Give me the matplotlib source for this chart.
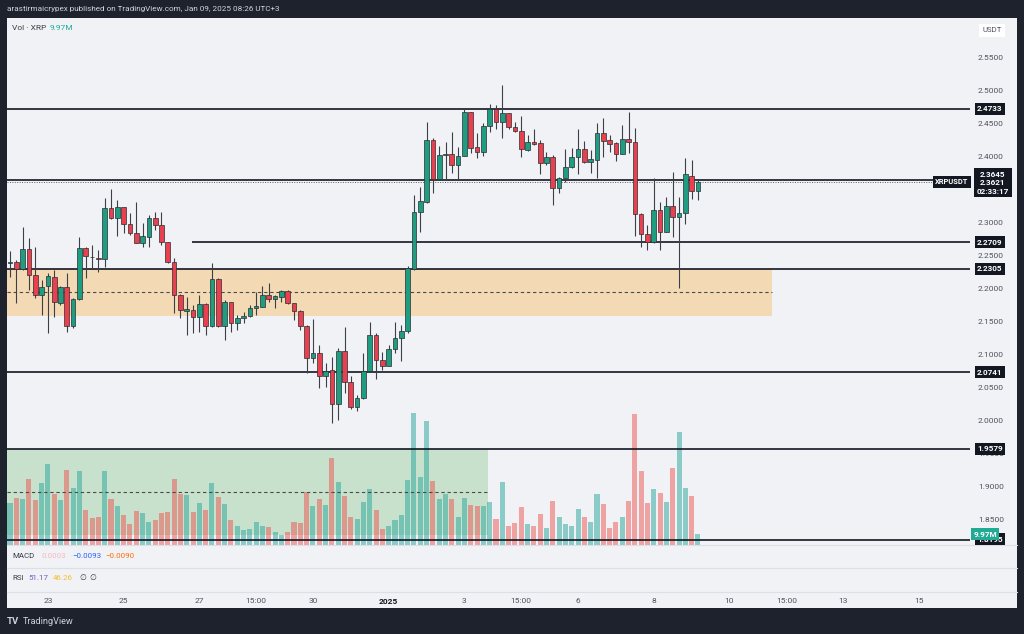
import matplotlib
matplotlib.use('Agg')
import matplotlib.pyplot as plt
from matplotlib.patches import Rectangle
from matplotlib.lines import Line2D
from matplotlib.transforms import blended_transform_factory

plt.rcParams['font.family'] = ['Roboto', 'DejaVu Sans']

W, H = 1024, 634

# --- XRPUSDT 4h candles, Dec 22 2024 -> Jan 09 2025 ---
opens = [2.2389, 2.2405, 2.2299, 2.2602, 2.2213, 2.1910, 2.2046, 2.2188, 2.1794, 2.2026,
         2.1445, 2.1844, 2.2617, 2.2491, 2.2475, 2.2455, 2.3223, 2.3071, 2.3238, 2.2985,
         2.2844, 2.2702, 2.2794, 2.3071, 2.2970, 2.2708, 2.2415, 2.1910, 2.1672, 2.1683,
         2.1571, 2.1768, 2.1445, 2.2157, 2.1445, 2.1799, 2.1480, 2.1556, 2.1592, 2.1708,
         2.1733, 2.1910, 2.1844, 2.1884, 2.1975, 2.1784, 2.1667, 2.1444, 2.0949, 2.1025,
         2.0687, 2.0773, 2.0257, 2.1060, 2.0596, 2.0217, 2.0343, 2.0763, 2.1303, 2.0924,
         2.0838, 2.1091, 2.1262, 2.1363, 2.2299, 2.3172, 2.3324, 2.4258, 2.3667, 2.4031,
         2.4046, 2.3879, 2.4021, 2.4677, 2.4147, 2.4081, 2.4470, 2.4728, 2.4536, 2.4662,
         2.4460, 2.4399, 2.4107, 2.4233, 2.4207, 2.3905, 2.4006, 2.3526, 2.3677, 2.3844,
         2.3995, 2.4117, 2.3920, 2.3955, 2.4369, 2.4258, 2.4207, 2.4046, 2.4268, 2.4223,
         2.3132, 2.2829, 2.2718, 2.3198, 2.2869, 2.3263, 2.3097, 2.3157, 2.3718, 2.3490]
highs = [2.2581, 2.2440, 2.2945, 2.2768, 2.2642, 2.2137, 2.2238, 2.2288, 2.2046, 2.2248,
         2.1859, 2.2794, 2.2642, 2.2667, 2.2592, 2.3374, 2.3511, 2.3349, 2.3248, 2.3147,
         2.3324, 2.2995, 2.3122, 2.3172, 2.3172, 2.2718, 2.2465, 2.1920, 2.1884, 2.1758,
         2.1910, 2.1784, 2.2389, 2.2172, 2.1834, 2.1809, 2.1607, 2.1657, 2.1758, 2.1960,
         2.2046, 2.2087, 2.1910, 2.1985, 2.1985, 2.1794, 2.1683, 2.1454, 2.1540, 2.1151,
         2.0873, 2.0975, 2.1101, 2.1419, 2.0682, 2.0394, 2.1025, 2.1505, 2.1328, 2.1050,
         2.1151, 2.1505, 2.1454, 2.2349, 2.3425, 2.3551, 2.4526, 2.4283, 2.4167, 2.4233,
         2.4374, 2.4157, 2.4728, 2.4687, 2.4369, 2.4511, 2.4798, 2.4788, 2.5091, 2.4672,
         2.4536, 2.4627, 2.4334, 2.4420, 2.4258, 2.4081, 2.4031, 2.3692, 2.4117, 2.4132,
         2.4420, 2.4248, 2.4107, 2.4511, 2.4586, 2.4334, 2.4233, 2.4485, 2.4677, 2.4435,
         2.3147, 2.2970, 2.3677, 2.3324, 2.3400, 2.3768, 2.3389, 2.3980, 2.3955, 2.3667]
lows = [2.2187, 2.1784, 2.2288, 2.1985, 2.1859, 2.1607, 2.1329, 2.1582, 2.1758, 2.1354,
        2.1405, 2.1834, 2.2162, 2.2314, 2.2263, 2.2329, 2.3061, 2.2804, 2.2844, 2.2819,
        2.2692, 2.2642, 2.2642, 2.2894, 2.2667, 2.2389, 2.1632, 2.1556, 2.1304, 2.1329,
        2.1354, 2.1304, 2.1430, 2.1430, 2.1228, 2.1354, 2.1379, 2.1480, 2.1582, 2.1607,
        2.1723, 2.1809, 2.1708, 2.1809, 2.1773, 2.1531, 2.1379, 2.0732, 2.0873, 2.0495,
        2.0520, 1.9975, 2.0015, 2.0429, 2.0177, 2.0156, 2.0330, 2.0750, 2.0636, 2.0773,
        2.0833, 2.1025, 2.0914, 2.1328, 2.2289, 2.2869, 2.3309, 2.3450, 2.3657, 2.3667,
        2.3763, 2.3667, 2.4016, 2.4056, 2.3980, 2.4016, 2.4384, 2.4425, 2.4293, 2.4425,
        2.4384, 2.4006, 2.4096, 2.4182, 2.3738, 2.3879, 2.3273, 2.3450, 2.3627, 2.3829,
        2.3738, 2.3905, 2.3753, 2.3677, 2.3995, 2.4081, 2.3940, 2.4040, 2.4066, 2.2804,
        2.2642, 2.2592, 2.2703, 2.2592, 2.2864, 2.2794, 2.2016, 2.2985, 2.3359, 2.3349]
closes = [2.2415, 2.2299, 2.2602, 2.2213, 2.1910, 2.2036, 2.2198, 2.1809, 2.2026, 2.1445,
          2.1844, 2.2617, 2.2501, 2.2480, 2.2450, 2.3223, 2.3071, 2.3238, 2.2985, 2.2844,
          2.2702, 2.2804, 2.3071, 2.2970, 2.2708, 2.2415, 2.1910, 2.1683, 2.1693, 2.1571,
          2.1768, 2.1445, 2.2157, 2.1445, 2.1799, 2.1480, 2.1556, 2.1592, 2.1708, 2.1743,
          2.1910, 2.1844, 2.1895, 2.1975, 2.1784, 2.1667, 2.1445, 2.0949, 2.1025, 2.0687,
          2.0763, 2.0257, 2.1060, 2.0596, 2.0217, 2.0343, 2.0763, 2.1303, 2.0924, 2.0838,
          2.1091, 2.1262, 2.1363, 2.2314, 2.3172, 2.3334, 2.4258, 2.3667, 2.4031, 2.4046,
          2.3879, 2.4021, 2.4677, 2.4142, 2.4081, 2.4470, 2.4728, 2.4536, 2.4662, 2.4450,
          2.4399, 2.4117, 2.4233, 2.4192, 2.3905, 2.4006, 2.3526, 2.3677, 2.3844, 2.3995,
          2.4117, 2.3920, 2.3970, 2.4369, 2.4248, 2.4197, 2.4046, 2.4268, 2.4223, 2.3132,
          2.2829, 2.2718, 2.3198, 2.2869, 2.3263, 2.3097, 2.3157, 2.3738, 2.3490, 2.3621]
# volume in millions XRP
volumes = [38.9, 43.5, 43.2, 61.9, 42.0, 58.2, 75.8, 47.5, 42.0, 69.9,
           53.5, 68.7, 32.6, 25.5, 25.8, 68.7, 43.2, 36.4, 27.7, 19.9,
           31.4, 29.5, 21.8, 23.3, 29.5, 30.8, 61.9, 47.9, 46.6, 30.8,
           38.9, 32.6, 58.2, 44.8, 38.2, 23.3, 17.4, 13.7, 14.9, 21.1,
           18.0, 16.8, 11.8, 9.6, 11.8, 21.8, 20.2, 49.4, 36.4, 43.2,
           37.6, 81.2, 58.7, 45.4, 26.4, 24.5, 40.4, 51.9, 33.0, 14.6,
           17.4, 23.6, 28.0, 60.6, 122.8, 63.1, 115.3, 60.0, 42.9, 47.5,
           42.9, 26.4, 44.2, 37.0, 36.7, 36.4, 39.8, 24.5, 59.1, 17.7,
           20.5, 35.8, 19.3, 17.7, 28.6, 15.5, 41.1, 25.8, 19.6, 17.7,
           33.9, 25.8, 21.8, 47.3, 38.2, 15.5, 21.1, 26.1, 41.1, 121.6,
           69.0, 39.2, 52.2, 48.5, 40.4, 72.1, 105.1, 52.8, 45.7, 9.97]

levels = [2.4733, 2.3645, 2.2709, 2.2305, 2.0741, 1.9579, 1.8195]
level_start = [None, None, 28.8, None, None, None, None]   # bar index where a line begins
last_price = 2.3621
zone_low, zone_high, zone_end = 2.1590, 2.2305, 120.8
vbox_low, vbox_high, vbox_end = 1.8269, 1.9579, 75.8

# 2.3500 is hidden behind the last-price tag on the original
price_ticks = [1.85, 1.90, 1.95, 2.00, 2.05, 2.10, 2.15, 2.20, 2.25, 2.30, 2.40, 2.45, 2.50, 2.55]
time_pos = [6, 18, 30, 39, 48, 60, 72, 81, 90, 102, 114, 123, 132, 144]
time_labels = ['23', '25', '27', '15:00', '30', '2025', '3', '15:00', '6', '8', '10', '15:00', '13', '15']

BG = '#f0f2f5'
FRAME = '#1e222d'
UP, DOWN = '#1f9d80', '#e8404f'
INK = '#131722'


def fx(px):
    return px / W


def fy(py):
    return 1 - py / H


fig = plt.figure(figsize=(W / 100, H / 100), dpi=100, facecolor=FRAME)
fig.add_artist(Rectangle((fx(7), fy(608)), fx(1017) - fx(7), fy(18) - fy(608),
                         transform=fig.transFigure, facecolor=BG, edgecolor='none', zorder=-10))

rect = [fx(7), fy(545), fx(970) - fx(7), fy(18) - fy(545)]
x0, x1 = -0.475, 152.1
n = len(closes)
xs = list(range(n))

ax = fig.add_axes(rect)
ax.set_facecolor('none')
ax.set_xlim(x0, x1)
ax.set_ylim(1.8121, 2.6106)
ax.set_zorder(2)
for s in ax.spines.values():
    s.set_visible(False)

# volume pane sits behind the price pane
vax = fig.add_axes(rect)
vax.set_facecolor('none')
vax.axis('off')
vax.set_zorder(1)
vax.set_xlim(x0, x1)
vax.set_ylim(0, 491)

# green volume box (behind the volume bars)
vax.add_patch(Rectangle((x0, vbox_low), vbox_end - x0, vbox_high - vbox_low,
                        transform=ax.transData, facecolor='#4caf50', alpha=0.24,
                        linewidth=0, zorder=0.5))
vcols = [(0.149, 0.651, 0.604, 0.5) if c >= o else (0.937, 0.325, 0.314, 0.5)
         for o, c in zip(opens, closes)]
vax.bar(xs, volumes, width=0.8, color=vcols, linewidth=0, zorder=1)
ax.hlines((vbox_low + vbox_high) / 2, x0, vbox_end, color='#4a4a4a', lw=0.8,
          linestyles=(0, (3, 2.5)), zorder=1.5)

# orange zone
ax.add_patch(Rectangle((x0, zone_low), zone_end - x0, zone_high - zone_low,
                       facecolor='#ff9800', alpha=0.26, linewidth=0, zorder=1))
ax.hlines((zone_low + zone_high) / 2, x0, zone_end, color='#4a4a4a', lw=0.8,
          linestyles=(0, (3, 2.5)), zorder=1.5)

# horizontal levels
for lv, st in zip(levels, level_start):
    ax.hlines(lv, x0 if st is None else st, x1, color=INK, lw=1.2, zorder=2)
ax.axhline(last_price, color='#5d606b', lw=0.7, ls=(0, (1, 1.5)), zorder=2)

# candles
ccols = [UP if c >= o else DOWN for o, c in zip(opens, closes)]
ax.vlines(xs, lows, highs, colors='#3c3f47', lw=0.8, zorder=3)
body_lo = [min(o, c) for o, c in zip(opens, closes)]
body_h = [max(abs(c - o), 0.0009) for o, c in zip(opens, closes)]
ax.bar(xs, body_h, bottom=body_lo, width=0.74, color=ccols, edgecolor='#2b2d33',
       linewidth=0.5, zorder=4)

# price scale
ax.yaxis.tick_right()
ax.set_yticks(price_ticks)
ax.set_yticklabels([f'{v:.4f}' for v in price_ticks])
ax.tick_params(axis='y', length=0, pad=5.8, labelsize=6.0, labelcolor='#50535e')

# time scale
ax.set_xticks(time_pos)
ax.set_xticklabels(time_labels)
ax.tick_params(axis='x', length=0, pad=38.5, labelsize=6.0, labelcolor='#50535e')
for t in ax.get_xticklabels():
    if t.get_text() == '2025':
        t.set_fontweight('bold')
        t.set_color(INK)

trans = blended_transform_factory(ax.transAxes, ax.transData)


def axfrac(px):
    return (px - 7) / (970 - 7)


def tag(text, y, coords=trans, xp=990, dy=0, fc=INK, color='white', size=5.9, z=10, va='center'):
    ax.annotate(text, xy=(axfrac(xp), y), xycoords=coords, xytext=(0, dy),
                textcoords='offset points', ha='center', va=va, fontsize=size,
                fontweight='bold', color=color, annotation_clip=False, zorder=z,
                linespacing=1.25,
                bbox=dict(boxstyle='square,pad=0.3', fc=fc, ec='none'))


for lv in levels:
    if lv in (2.3645, 1.8195):
        continue
    tag(f'{lv:.4f}', lv)
tag('1.8195', 1.8195, dy=0.5, z=9)
tag('9.97M', volumes[-1], coords=(ax.transAxes, vax.transData), xp=985, fc='#22ab94', z=11)
tag('2.3645\n2.3621\n02:33:17', last_price, dy=8.2, va='top', xp=993)
tag('XRPUSDT', last_price, xp=952, size=5.4)

# USDT unit box
fig.text(fx(992), fy(30), 'USDT', ha='center', va='center', fontsize=5.6, color='#50535e',
         bbox=dict(boxstyle='square,pad=0.45', fc='white', ec='none'))

# pane separators
for py in (545, 568, 592):
    fig.add_artist(Line2D([fx(7), fx(1017)], [fy(py), fy(py)], color='#dcdfe6', lw=0.8))

# header + legends
fig.text(fx(7), fy(9), 'arastirmaicrypex published on TradingView.com, Jan 09, 2025 08:26 UTC+3',
         fontsize=5.9, color='#d1d4dc', va='center')
fig.text(fx(12), fy(28), 'Vol · XRP', fontsize=6.0, color='#3a3e48', va='center')
fig.text(fx(50), fy(28), '9.97M', fontsize=6.0, color='#22ab94', va='center')

fig.text(fx(12), fy(556), 'MACD', fontsize=5.7, color='#3a3e48', va='center')
fig.text(fx(41), fy(556), '0.0003', fontsize=5.7, color='#f7b9be', va='center')
fig.text(fx(72), fy(556), '−0.0093', fontsize=5.7, color='#2962ff', va='center')
fig.text(fx(105), fy(556), '−0.0090', fontsize=5.7, color='#ff6d00', va='center')

fig.text(fx(12), fy(578), 'RSI', fontsize=5.7, color='#3a3e48', va='center')
fig.text(fx(28), fy(578), '51.17', fontsize=5.7, color='#7e57c2', va='center')
fig.text(fx(53), fy(578), '46.26', fontsize=5.7, color='#f2c12e', va='center')
fig.text(fx(79), fy(578), '∅', fontsize=5.7, color='#3a3e48', va='center')
fig.text(fx(89), fy(578), '∅', fontsize=5.7, color='#3a3e48', va='center')

# footer logo
fig.text(fx(7), fy(621.5), 'TV', fontsize=6.8, fontweight='bold', color='#d1d4dc', va='center')
fig.text(fx(23), fy(621.5), 'TradingView', fontsize=6.6, color='#d1d4dc', va='center')

fig.savefig('out.png', dpi=100, facecolor=FRAME)
